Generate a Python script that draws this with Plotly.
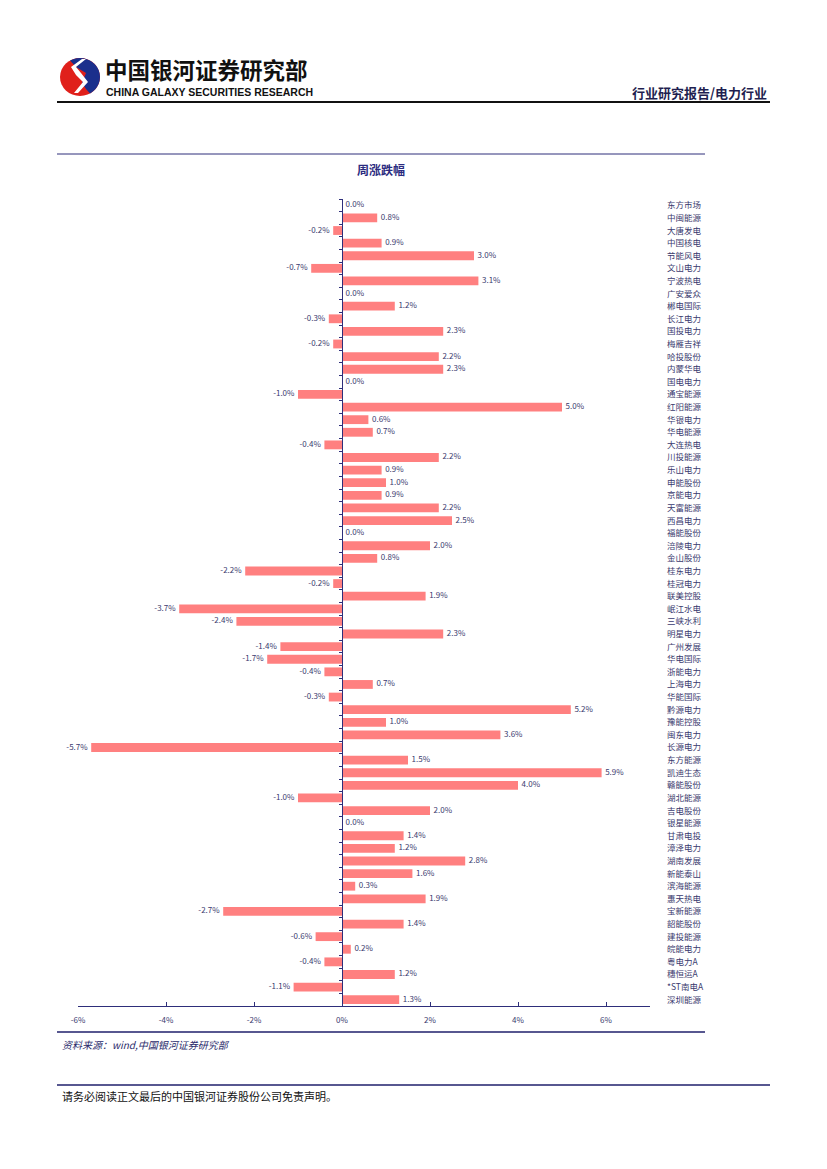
import plotly.graph_objects as go
import math

categories = ["东方市场","中闽能源","大唐发电","中国核电","节能风电","文山电力","宁波热电","广安爱众",
"郴电国际","长江电力","国投电力","梅雁吉祥","哈投股份","内蒙华电","国电电力","通宝能源",
"红阳能源","华银电力","华电能源","大连热电","川投能源","乐山电力","申能股份","京能电力",
"天富能源","西昌电力","福能股份","涪陵电力","金山股份","桂东电力","桂冠电力","联美控股",
"岷江水电","三峡水利","明星电力","广州发展","华电国际","浙能电力","上海电力","华能国际",
"黔源电力","豫能控股","闽东电力","长源电力","东方能源","凯迪生态","赣能股份","湖北能源",
"吉电股份","银星能源","甘肃电投","漳泽电力","湖南发展","新能泰山","滨海能源","惠天热电",
"宝新能源","韶能股份","建投能源","皖能电力","粤电力A","穗恒运A","*ST南电A","深圳能源"]
values = [0.0,0.8,-0.2,0.9,3.0,-0.7,3.1,0.0,
1.2,-0.3,2.3,-0.2,2.2,2.3,0.0,-1.0,
5.0,0.6,0.7,-0.4,2.2,0.9,1.0,0.9,
2.2,2.5,0.0,2.0,0.8,-2.2,-0.2,1.9,
-3.7,-2.4,2.3,-1.4,-1.7,-0.4,0.7,-0.3,
5.2,1.0,3.6,-5.7,1.5,5.9,4.0,-1.0,
2.0,0.0,1.4,1.2,2.8,1.6,0.3,1.9,
-2.7,1.4,-0.6,0.2,-0.4,1.2,-1.1,1.3]
x_ticks = [-6, -4, -2, 0, 2, 4, 6]
x_ticktext = ["-6%", "-4%", "-2%", "0%", "2%", "4%", "6%"]

# page offset of the plot div (browser body margin)
OFF = 8
PAGE_W, PAGE_H = 827, 1169
W, H = PAGE_W - OFF, PAGE_H - OFF
L, R, T, B = 78 - OFF, 177, 199 - OFF, 163
PW, PH = W - L - R, H - T - B
XMIN, XMAX = -6, 7

def px(x):  # page pixel x -> paper fraction
    return (x - OFF - L) / PW

def py(y):  # page pixel y -> paper fraction
    return (H - B - (y - OFF)) / PH

NAVY = "#2E2E7A"
TXT = "#3A3A6E"
BAR = "#FF8080"
FONT = "Noto Sans CJK SC"

n = len(categories)
idx = list(range(n))
labels = ["  %.1f%%  " % v if abs(v) > 1e-9 else "  0.0%" for v in values]
pos = ["middle left" if v < 0 else "middle right" for v in values]

fig = go.Figure()
fig.add_trace(go.Bar(
    x=values, y=categories, orientation="h",
    marker=dict(color=BAR, line=dict(width=0)),
    hoverinfo="skip", showlegend=False,
))
fig.add_trace(go.Scatter(
    x=values, y=idx, yaxis="y2", mode="text",
    text=labels, textposition=pos,
    textfont=dict(family=FONT, size=8, color=TXT),
    cliponaxis=False, hoverinfo="skip", showlegend=False,
))

fig.update_layout(
    width=W, height=H,
    margin=dict(l=L, r=R, t=T, b=B, pad=0),
    paper_bgcolor="white", plot_bgcolor="white",
    bargap=0.3,
    font=dict(family=FONT, color=TXT),
    xaxis=dict(
        range=[XMIN, XMAX], domain=[0, 1],
        tickmode="array", tickvals=x_ticks, ticktext=x_ticktext,
        ticks="inside", ticklen=4, tickcolor=NAVY, tickwidth=1,
        showline=True, linecolor=NAVY, linewidth=1,
        showgrid=False, zeroline=False,
        tickfont=dict(family=FONT, size=8, color=TXT),
        ticklabelstandoff=6,
        fixedrange=True,
    ),
    yaxis=dict(
        type="category", categoryorder="array", categoryarray=categories,
        range=[n - 0.5, -0.5],
        side="right", ticks="", showline=False, showgrid=False, zeroline=False,
        tickfont=dict(family=FONT, size=8.5, color=TXT),
        ticklabelstandoff=16,
        fixedrange=True,
    ),
    yaxis2=dict(
        overlaying="y", anchor="free", position=(0 - XMIN) / (XMAX - XMIN),
        side="left", range=[n - 0.5, -0.5],
        tickmode="array", tickvals=[i - 0.5 for i in range(n + 1)],
        showticklabels=False, ticks="outside", ticklen=3, tickcolor=NAVY, tickwidth=1,
        showline=True, linecolor=NAVY, linewidth=1,
        showgrid=False, zeroline=False, fixedrange=True,
    ),
)

shapes = []
shapes.append(dict(type="line", xref="paper", yref="paper", x0=px(57), x1=px(770), y0=py(102), y1=py(102),
                   line=dict(color="#111111", width=2)))
shapes.append(dict(type="line", xref="paper", yref="paper", x0=px(57), x1=px(705), y0=py(154), y1=py(154),
                   line=dict(color=NAVY, width=1)))
shapes.append(dict(type="line", xref="paper", yref="paper", x0=px(57), x1=px(705), y0=py(1032), y1=py(1032),
                   line=dict(color="#1F1F6B", width=1.5)))
shapes.append(dict(type="line", xref="paper", yref="paper", x0=px(57), x1=px(770), y0=py(1085), y1=py(1085),
                   line=dict(color="#1F1F6B", width=1.5)))

# logo
cx, cy, rr = 80, 77, 20
shapes.append(dict(type="circle", xref="paper", yref="paper",
                   x0=px(cx - rr), x1=px(cx + rr), y0=py(cy + rr * 0.95), y1=py(cy - rr * 0.95),
                   fillcolor="#E0201B", line=dict(width=0)))

def pth(points):
    s = "M %f,%f" % (px(points[0][0]), py(points[0][1]))
    for p in points[1:]:
        s += " L %f,%f" % (px(p[0]), py(p[1]))
    return s + " Z"

blue_pts = []
for a in range(-60, 121, 10):
    t = math.radians(a)
    blue_pts.append((cx + rr * math.cos(t), cy - rr * 0.95 * math.sin(t)))
blue_pts += [(cx - 4, cy - 10), (cx + 6, cy - 4), (cx + 2, cy + 6), (cx + 6, cy + 12)]
shapes.append(dict(type="path", xref="paper", yref="paper", path=pth(blue_pts),
                   fillcolor="#1B2F8C", line=dict(width=0)))
white_pts = [(cx + 2, cy - 18), (cx - 9, cy - 10), (cx - 4, cy - 2), (cx + 3, cy + 5), (cx - 6, cy + 16),
             (cx - 2, cy + 16), (cx + 8, cy + 5), (cx + 1, cy - 4), (cx - 4, cy - 10), (cx + 6, cy - 18)]
shapes.append(dict(type="path", xref="paper", yref="paper", path=pth(white_pts),
                   fillcolor="white", line=dict(width=0)))
fig.update_layout(shapes=shapes)

ann = []
ann.append(dict(text="<b>中国银河证券研究部</b>", x=px(103), y=py(69), xref="paper", yref="paper",
                xanchor="left", yanchor="middle", showarrow=False,
                font=dict(family=FONT, size=22.5, color="#111111")))
ann.append(dict(text="<b>CHINA GALAXY SECURITIES RESEARCH</b>", x=px(104), y=py(92), xref="paper", yref="paper",
                xanchor="left", yanchor="middle", showarrow=False,
                font=dict(family="Liberation Sans", size=10.5, color="#111111")))
ann.append(dict(text="<b>行业研究报告/电力行业</b>", x=px(769), y=py(92), xref="paper", yref="paper",
                xanchor="right", yanchor="middle", showarrow=False,
                font=dict(family=FONT, size=13, color="#1F1F50")))
ann.append(dict(text="<b>周涨跌幅</b>", x=px(381), y=py(170), xref="paper", yref="paper",
                xanchor="center", yanchor="middle", showarrow=False,
                font=dict(family=FONT, size=12, color="#2B2B80")))
ann.append(dict(text="<i>资料来源：wind,中国银河证券研究部</i>", x=px(60), y=py(1044), xref="paper", yref="paper",
                xanchor="left", yanchor="middle", showarrow=False,
                font=dict(family=FONT, size=10, color="#2B2B6B")))
ann.append(dict(text="请务必阅读正文最后的中国银河证券股份公司免责声明。", x=px(60), y=py(1096), xref="paper", yref="paper",
                xanchor="left", yanchor="middle", showarrow=False,
                font=dict(family=FONT, size=11, color="#111111")))
fig.update_layout(annotations=ann)

fig.write_html("out.html", config={"displayModeBar": False})
